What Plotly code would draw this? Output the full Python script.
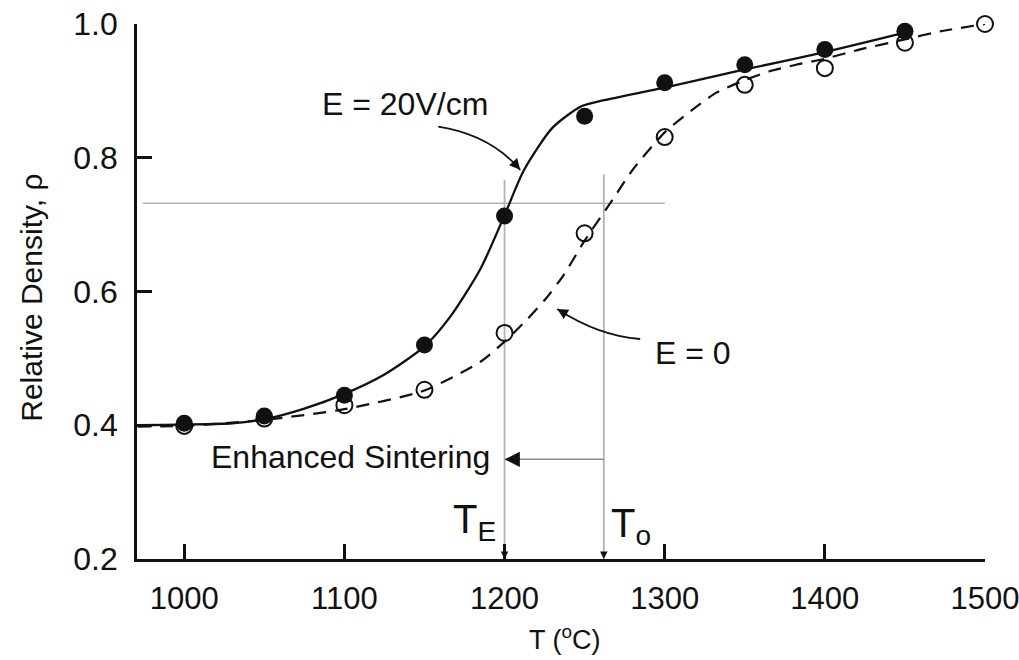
import plotly.graph_objects as go

# ---------------- data ----------------
T_filled = [1000, 1050, 1100, 1150, 1200, 1250, 1300, 1350, 1400, 1450]
rho_E20 = [0.403, 0.414, 0.445, 0.520, 0.713, 0.862, 0.912, 0.939, 0.962, 0.989]

T_open = [1000, 1050, 1100, 1150, 1200, 1250, 1300, 1350, 1400, 1450, 1500]
rho_E0 = [0.399, 0.410, 0.430, 0.453, 0.538, 0.687, 0.831, 0.909, 0.934, 0.972, 1.000]

# fitted curves
T_curve20 = [971, 1000, 1030, 1050, 1075, 1100, 1125, 1150, 1166, 1185, 1200,
             1212, 1230, 1248, 1262, 1300, 1350, 1400, 1455]
rho_curve20 = [0.400, 0.401, 0.403, 0.409, 0.425, 0.447, 0.476, 0.518, 0.562, 0.634, 0.714,
               0.781, 0.845, 0.877, 0.886, 0.905, 0.932, 0.958, 0.990]

T_curve0 = [971, 1000, 1050, 1100, 1150, 1185, 1200, 1214, 1226, 1237, 1250,
            1266, 1280, 1300, 1318, 1332, 1350, 1365, 1382, 1400, 1422, 1450, 1472, 1500]
rho_curve0 = [0.398, 0.399, 0.408, 0.424, 0.452, 0.495, 0.525, 0.558, 0.590, 0.625, 0.676,
              0.732, 0.782, 0.838, 0.873, 0.897, 0.916, 0.929, 0.939, 0.948, 0.962, 0.977, 0.989, 1.000]

x_ticks = [1000, 1100, 1200, 1300, 1400, 1500]
y_ticks = [0.2, 0.4, 0.6, 0.8, 1.0]
y_tick_text = ["0.2", "0.4", "0.6", "0.8", "1.0"]

# reference construction
T_E = 1200
T_o = 1262
rho_ref = 0.732
rho_vtop_E = 0.767
rho_vtop_o = 0.775
rho_arrow = 0.349

FONT = "Liberation Sans, Arial, Helvetica, sans-serif"
INK = "#111111"
GREY = "#b4b4b4"

fig = go.Figure()

fig.add_trace(go.Scatter(x=T_curve0, y=rho_curve0, mode="lines",
                         line=dict(color=INK, width=2.2, dash="13px,9px", shape="spline", smoothing=0.6),
                         hoverinfo="skip", showlegend=False))
fig.add_trace(go.Scatter(x=T_curve20, y=rho_curve20, mode="lines",
                         line=dict(color=INK, width=2.3, shape="spline", smoothing=0.7),
                         hoverinfo="skip", showlegend=False))
fig.add_trace(go.Scatter(x=T_open, y=rho_E0, mode="markers", cliponaxis=False,
                         marker=dict(symbol="circle-open", size=16, color=INK, line=dict(width=2)),
                         name="E = 0", showlegend=False))
fig.add_trace(go.Scatter(x=T_filled, y=rho_E20, mode="markers", cliponaxis=False,
                         marker=dict(symbol="circle", size=17, color=INK),
                         name="E = 20V/cm", showlegend=False))

shapes = [
    dict(type="line", xref="x", yref="y", x0=974, x1=1300, y0=rho_ref, y1=rho_ref,
         line=dict(color=GREY, width=1.5), layer="below"),
    dict(type="line", xref="x", yref="y", x0=T_E, x1=T_E, y0=rho_vtop_E, y1=0.2,
         line=dict(color=GREY, width=1.8), layer="below"),
    dict(type="line", xref="x", yref="y", x0=T_o, x1=T_o, y0=rho_vtop_o, y1=0.2,
         line=dict(color=GREY, width=1.8), layer="below"),
    dict(type="line", xref="x", yref="y", x0=T_o, x1=T_E + 4, y0=rho_arrow, y1=rho_arrow,
         line=dict(color="#8a8a8a", width=1.5)),
    # curved pointer arrows
    dict(type="path", xref="x", yref="y",
         path="M 1158.6,0.8466 Q 1191,0.8346 1209.8,0.782",
         line=dict(color=INK, width=1.8)),
    dict(type="path", xref="x", yref="y",
         path="M 1284.7,0.529 Q 1258.5,0.534 1232.9,0.574",
         line=dict(color=INK, width=1.8)),
]

annotations = [
    # arrowheads
    dict(x=T_E, y=rho_arrow, ax=T_E + 10, ay=rho_arrow, xref="x", yref="y", axref="x", ayref="y",
         text="", showarrow=True, arrowhead=2, arrowsize=1.7, arrowwidth=1.8, arrowcolor=INK),
    dict(x=T_E, y=0.2, ax=0, ay=-8, xref="x", yref="y", text="", showarrow=True,
         arrowhead=2, arrowsize=1, arrowwidth=1.5, arrowcolor=INK),
    dict(x=T_o, y=0.2, ax=0, ay=-8, xref="x", yref="y", text="", showarrow=True,
         arrowhead=2, arrowsize=1, arrowwidth=1.5, arrowcolor=INK),
    dict(x=1209.8, y=0.782, ax=1205, ay=0.795, xref="x", yref="y", axref="x", ayref="y",
         text="", showarrow=True, arrowhead=2, arrowsize=1.2, arrowwidth=1.8, arrowcolor=INK),
    dict(x=1232.9, y=0.574, ax=1238.5, ay=0.566, xref="x", yref="y", axref="x", ayref="y",
         text="", showarrow=True, arrowhead=2, arrowsize=1.2, arrowwidth=1.8, arrowcolor=INK),
    # texts
    dict(x=1192, y=0.352, xref="x", yref="y", text="Enhanced Sintering", showarrow=False,
         xanchor="right", yanchor="middle", font=dict(size=32, color=INK, family=FONT)),
    dict(x=1196, y=0.255, xref="x", yref="y", text="T<sub>E</sub>", showarrow=False,
         xanchor="right", yanchor="middle", font=dict(size=40, color=INK, family=FONT)),
    dict(x=1265, y=0.25, xref="x", yref="y", text="T<sub>o</sub>", showarrow=False,
         xanchor="left", yanchor="middle", font=dict(size=40, color=INK, family=FONT)),
    dict(x=1138, y=0.881, xref="x", yref="y", text="E = 20V/cm", showarrow=False,
         xanchor="center", yanchor="middle", font=dict(size=32, color=INK, family=FONT)),
    dict(x=1293, y=0.508, xref="x", yref="y", text="E = 0", showarrow=False,
         xanchor="left", yanchor="middle", font=dict(size=32, color=INK, family=FONT)),
    # axis titles
    dict(x=-0.124, y=0.488, xref="paper", yref="paper", text="Relative Density, ρ",
         textangle=-90, showarrow=False, xanchor="center", yanchor="middle",
         font=dict(size=30, color=INK, family=FONT)),
    dict(x=0.505, y=-0.148, xref="paper", yref="paper", text="T (<sup>o</sup>C)",
         showarrow=False, xanchor="center", yanchor="middle",
         font=dict(size=27, color=INK, family=FONT)),
]

fig.update_layout(
    width=1019, height=660,
    margin=dict(l=137, r=34, t=24, b=101, autoexpand=False),
    paper_bgcolor="white", plot_bgcolor="white",
    font=dict(family=FONT, color=INK),
    shapes=shapes, annotations=annotations,
    showlegend=False,
)
fig.update_xaxes(range=[970.5, 1500], tickmode="array", tickvals=x_ticks,
                 ticktext=[str(v) for v in x_ticks],
                 showline=True, linecolor=INK, linewidth=2.6, mirror=False,
                 ticks="inside", ticklen=15, tickwidth=2.5, tickcolor=INK,
                 showgrid=False, zeroline=False, ticklabelstandoff=10,
                 ticklabeloverflow="allow", automargin=False,
                 tickfont=dict(size=31, color=INK, family=FONT))
fig.update_yaxes(range=[0.2, 1.0], tickmode="array", tickvals=y_ticks, ticktext=y_tick_text,
                 showline=True, linecolor=INK, linewidth=2.6, mirror=False,
                 ticks="inside", ticklen=15, tickwidth=2.5, tickcolor=INK,
                 showgrid=False, zeroline=False, ticklabelstandoff=10, automargin=False,
                 tickfont=dict(size=32, color=INK, family=FONT))

fig.write_html("out.html")
